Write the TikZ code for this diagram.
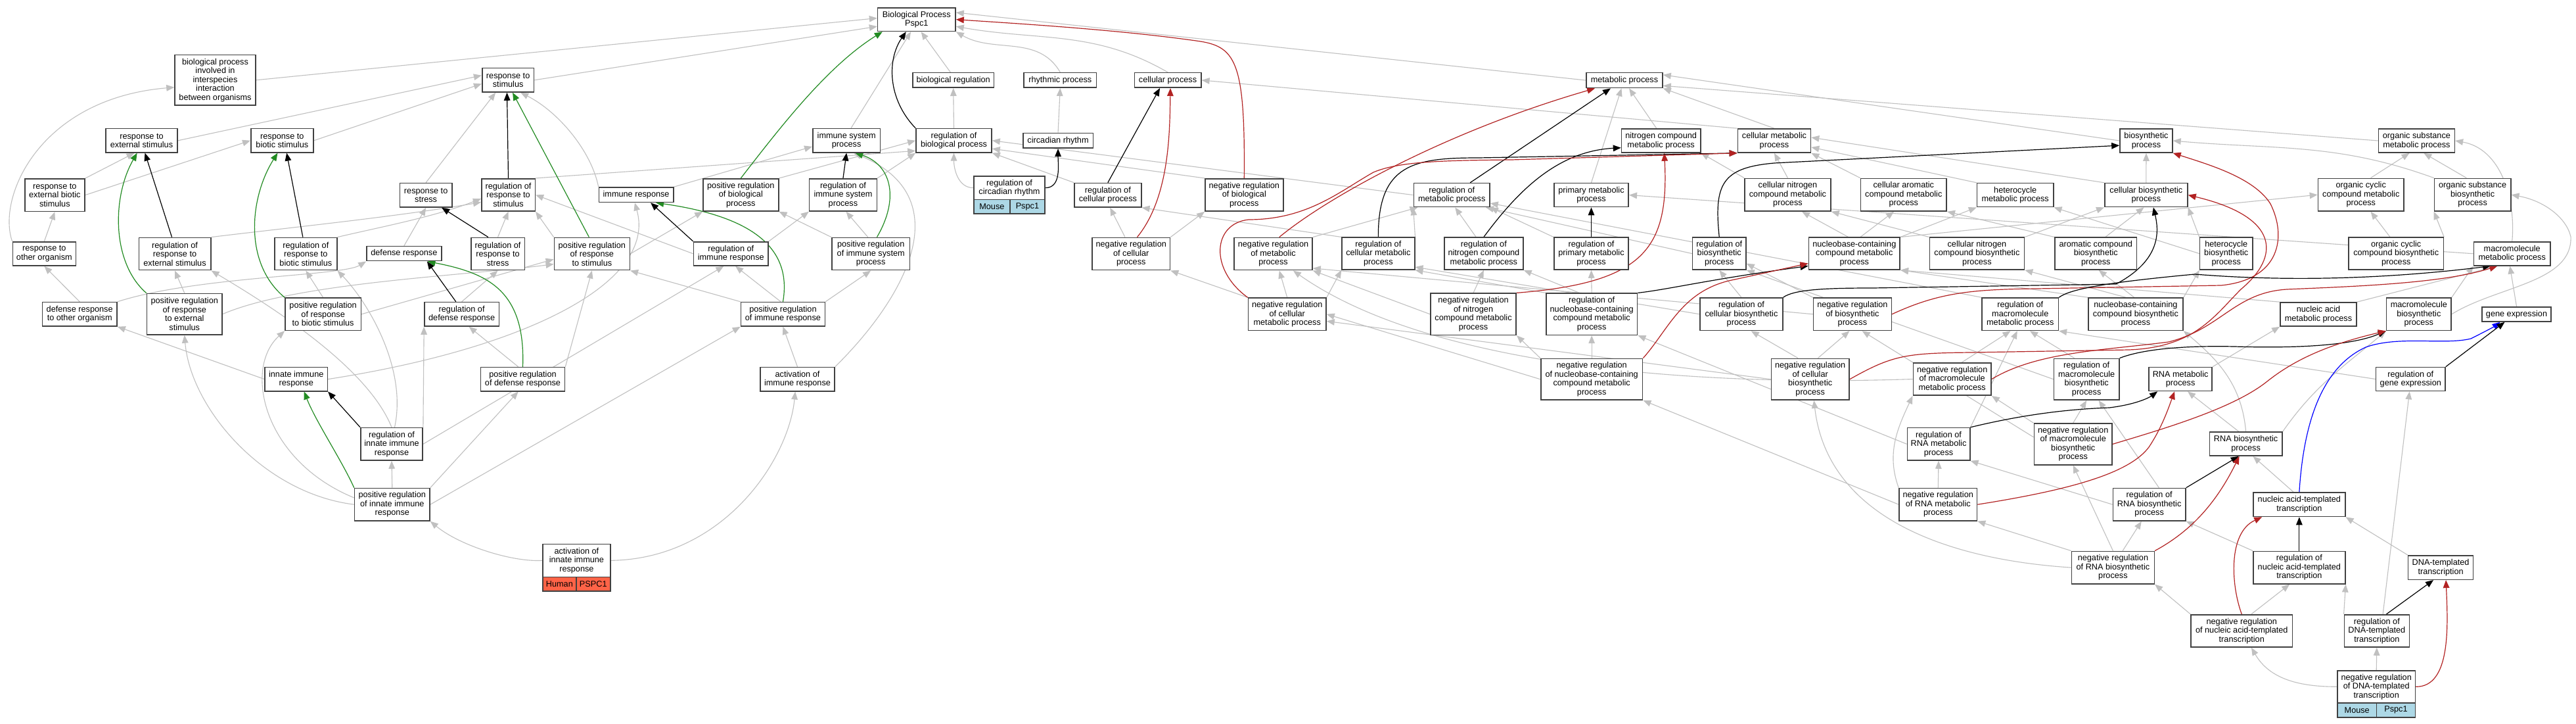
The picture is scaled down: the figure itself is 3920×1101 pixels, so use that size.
\documentclass[tikz,border=0pt]{standalone}
\usepackage{fontspec}
\setmainfont{Liberation Sans}
\usetikzlibrary{arrows.meta,calc}
\pgfdeclarelayer{background}
\pgfsetlayers{background,main}
\definecolor{edgegray}{HTML}{C0C0C0}
\definecolor{boxborder}{HTML}{404040}
\definecolor{negred}{HTML}{B22222}
\definecolor{posgreen}{HTML}{228B22}
\definecolor{humancol}{HTML}{FF6347}
\definecolor{mousecol}{HTML}{ADD8E6}
\newcommand{\gobox}[6]{%
  \pgfmathsetmacro{\goW}{(#3-#2)*0.5}%
  \pgfmathsetmacro{\goH}{(#5-#4)*0.5}%
  \pgfmathsetmacro{\goX}{(#2+#3)/2}%
  \pgfmathsetmacro{\goY}{-(#4+#5)/2}%
  \node[gobox, minimum width=\goW pt, minimum height=\goH pt] (#1) at (\goX,\goY) {#6};}
\newcommand{\gocell}[7]{%
  \pgfmathsetmacro{\goW}{(#3-#2)*0.5}%
  \pgfmathsetmacro{\goH}{(#5-#4)*0.5}%
  \pgfmathsetmacro{\goX}{(#2+#3)/2}%
  \pgfmathsetmacro{\goY}{-(#4+#5)/2}%
  \node[gobox, fill=#6, minimum width=\goW pt, minimum height=\goH pt] (#1) at (\goX,\goY) {#7};}
\begin{document}
\begin{tikzpicture}[x=0.5pt,y=0.5pt,
  gobox/.style={draw=boxborder, line width=0.8pt, fill=white, inner sep=0pt, align=center,
    font=\fontsize{6.35}{6.75}\selectfont},
  eg/.style={draw=edgegray, line width=0.55pt, -{Triangle[length=6pt,width=4.8pt]}},
  ebk/.style={draw=black, line width=0.6pt, -{Triangle[length=6pt,width=4.8pt]}},
  egr/.style={draw=posgreen, line width=0.6pt, -{Triangle[length=6pt,width=4.8pt]}},
  erd/.style={draw=negred, line width=0.6pt, -{Triangle[length=6pt,width=4.8pt]}},
  eblue/.style={draw=blue, line width=0.6pt, -{Triangle[length=6pt,width=4.8pt]}}]
\useasboundingbox (0,0) rectangle (3920,-1101);
% ---------------- nodes: left
\gobox{bpint}{266}{389}{83.6}{160}{biological process\\involved in\\interspecies\\interaction\\between organisms}
\gobox{rext}{160.8}{270.2}{195.7}{231.8}{response to\\external stimulus}
\gobox{rbio}{381.8}{476.9}{195.7}{231.8}{response to\\biotic stimulus}
\gobox{rextbio}{37.9}{128.8}{272}{321.4}{response to\\external biotic\\stimulus}
\gobox{roth}{19.4}{115.3}{367.8}{403.9}{response to\\other organism}
\gobox{regrext}{211.3}{320.7}{361.4}{410.7}{regulation of\\response to\\external stimulus}
\gobox{regrbio}{418}{512.7}{361.4}{410.7}{regulation of\\response to\\biotic stimulus}
\gobox{droth}{64.4}{178}{459.6}{496}{defense response\\to other organism}
\gobox{pregrext}{223.5}{338}{446.4}{508.9}{positive regulation\\of response\\to external\\stimulus}
\gobox{pregrbio}{434}{549.3}{453.2}{502.4}{positive regulation\\of response\\to biotic stimulus}
\gobox{rstress}{608.6}{687.7}{278.5}{315}{response to\\stress}
\gobox{defense}{558}{671.7}{374.6}{396.7}{defense response}
\gobox{innate}{403.2}{498.3}{558.6}{594.7}{innate immune\\response}
\gobox{reginnate}{548.9}{643.1}{650.6}{700}{regulation of\\innate immune\\response}
\gobox{preginnate}{539.6}{654}{742.5}{791.9}{positive regulation\\of innate immune\\response}
\gobox{rstim}{733.7}{812.6}{103.6}{140}{response to\\stimulus}
\gobox{regrstim}{732.8}{814.3}{271.8}{321}{regulation of\\response to\\stimulus}
\gobox{immresp}{911.5}{1024.7}{285}{307.5}{immune response}
\gobox{pregbio}{1070}{1184.7}{271.8}{321}{positive regulation\\of biological\\process}
\gobox{immsys}{1236.8}{1339.5}{195.7}{231.8}{immune system\\process}
\gobox{regimmsys}{1231.6}{1334.3}{271.8}{321}{regulation of\\immune system\\process}
\gobox{regrstress}{716.8}{798.3}{361.4}{410.7}{regulation of\\response to\\stress}
\gobox{pregrstim}{843.4}{958.3}{361.4}{410.7}{positive regulation\\of response\\to stimulus}
\gobox{regimm}{1055.5}{1169}{367.8}{403.9}{regulation of\\immune response}
\gobox{pregimmsys}{1265.8}{1384.6}{361.4}{410.7}{positive regulation\\of immune system\\process}
\gobox{regdef}{646}{759.3}{459.6}{496}{regulation of\\defense response}
\gobox{pregimm}{1127.5}{1255.4}{459.6}{496}{positive regulation\\of immune response}
\gobox{pregdef}{731.5}{859.5}{558.6}{594.7}{positive regulation\\of defense response}
\gobox{actimm}{1157}{1270}{558.6}{594.7}{activation of\\immune response}
\gobox{actinnate}{826}{928.8}{827.3}{877.4}{activation of\\innate immune\\response}
\gocell{actinnateA}{826}{876.8}{877.4}{898.9}{humancol}{Human}
\gocell{actinnateB}{876.8}{928.8}{877.4}{898.9}{humancol}{PSPC1}
% ---------------- nodes: middle
\gobox{root}{1335.6}{1454}{11.8}{47.5}{Biological Process\\Pspc1}
\gobox{bioreg}{1388.9}{1512.5}{110.7}{133.2}{biological regulation}
\gobox{rhythm}{1558}{1668.6}{110.7}{133.2}{rhythmic process}
\gobox{cellproc}{1726.3}{1827.8}{110.7}{133.2}{cellular process}
\gobox{regbio}{1394}{1509}{195.7}{231.8}{regulation of\\biological process}
\gobox{circ}{1556.7}{1663.4}{202.5}{225.3}{circadian rhythm}
\gobox{regcirc}{1482}{1590}{267.8}{303.5}{regulation of\\circadian rhythm}
\gocell{regcircA}{1482}{1536.8}{303.5}{325}{mousecol}{Mouse}
\gocell{regcircB}{1536.8}{1590}{303.5}{325}{mousecol}{Pspc1}
\gobox{regcell}{1635}{1736.7}{278.5}{315}{regulation of\\cellular process}
\gobox{negregbio}{1833.9}{1952.7}{271.8}{321}{negative regulation\\of biological\\process}
\gobox{negregcell}{1662}{1780.5}{361.4}{410.7}{negative regulation\\of cellular\\process}
\gobox{negregmet}{1878}{1997}{361.4}{410.7}{negative regulation\\of metabolic\\process}
\gobox{negregcellmet}{1899.5}{2018}{453.2}{502.4}{negative regulation\\of cellular\\metabolic process}
\gobox{metproc}{2413.9}{2530}{110.6}{133.6}{metabolic process}
\gobox{nitro}{2467.5}{2587.7}{196}{232}{nitrogen compound\\metabolic process}
\gobox{regmet}{2151.4}{2267}{278.6}{314.6}{regulation of\\metabolic process}
\gobox{primet}{2364.8}{2478.2}{278.6}{314.6}{primary metabolic\\process}
\gobox{regcellmet}{2042}{2152.7}{361.3}{410}{regulation of\\cellular metabolic\\process}
\gobox{regnitro}{2197.8}{2317.9}{361.3}{410}{regulation of\\nitrogen compound\\metabolic process}
\gobox{regprimet}{2364.8}{2478.2}{361.3}{410}{regulation of\\primary metabolic\\process}
\gobox{negregnitro}{2176.9}{2307.2}{446.2}{509.4}{negative regulation\\of nitrogen\\compound metabolic\\process}
\gobox{regnuc}{2352.7}{2491.6}{446.2}{509.4}{regulation of\\nucleobase-containing\\compound metabolic\\process}
\gobox{negregnuc}{2344.7}{2499.6}{545.4}{608.1}{negative regulation\\of nucleobase-containing\\compound metabolic\\process}
% ---------------- nodes: right
\gobox{cellmet}{2644.4}{2755.5}{196}{232}{cellular metabolic\\process}
\gobox{biosyn}{3226}{3305.9}{196}{232}{biosynthetic\\process}
\gobox{cellnitro}{2655}{2785.9}{271.4}{321}{cellular nitrogen\\compound metabolic\\process}
\gobox{cellarom}{2831.4}{2962.2}{271.4}{321}{cellular aromatic\\compound metabolic\\process}
\gobox{hetmet}{3008.6}{3124.7}{278.6}{314.6}{heterocycle\\metabolic process}
\gobox{cellbio}{3202.8}{3328.9}{278.6}{314.6}{cellular biosynthetic\\process}
\gobox{regbiosyn}{2575.6}{2656.9}{361.3}{410}{regulation of\\biosynthetic\\process}
\gobox{nucmet}{2752.4}{2891.2}{361.3}{410}{nucleobase-containing\\compound metabolic\\process}
\gobox{cellnitrobio}{2936.3}{3080.5}{361.3}{410}{cellular nitrogen\\compound biosynthetic\\process}
\gobox{arombio}{3127}{3251.5}{361.3}{410}{aromatic compound\\biosynthetic\\process}
\gobox{regcellbio}{2587.2}{2712.7}{453.1}{502.5}{regulation of\\cellular biosynthetic\\process}
\gobox{negregbiosyn}{2759.5}{2878.3}{453.1}{502.5}{negative regulation\\of biosynthetic\\process}
\gobox{regmacmet}{3016.2}{3132.3}{453.1}{502.5}{regulation of\\macromolecule\\metabolic process}
\gobox{nucbio}{3177.8}{3322}{453.1}{502.5}{nucleobase-containing\\compound biosynthetic\\process}
\gobox{negregcellbio}{2695.3}{2814}{545.4}{608.1}{negative regulation\\of cellular\\biosynthetic\\process}
\gobox{negregmacmet}{2911.3}{3030}{551.9}{601.2}{negative regulation\\of macromolecule\\metabolic process}
\gobox{regmacbio}{3125.6}{3224.7}{545.4}{608.1}{regulation of\\macromolecule\\biosynthetic\\process}
\gobox{regrnamet}{2902.3}{2997.7}{650.6}{700}{regulation of\\RNA metabolic\\process}
\gobox{negregmacbio}{3095.3}{3214.1}{644.1}{706.7}{negative regulation\\of macromolecule\\biosynthetic\\process}
\gobox{negregrnamet}{2890}{3008.5}{742.5}{791.9}{negative regulation\\of RNA metabolic\\process}
\gobox{regrnabio}{3215.4}{3325.9}{742.5}{791.9}{regulation of\\RNA biosynthetic\\process}
\gobox{negregrnabio}{3152.5}{3278.3}{838.4}{887.8}{negative regulation\\of RNA biosynthetic\\process}
\gobox{orgsubmet}{3619.5}{3735.3}{196}{232}{organic substance\\metabolic process}
\gobox{orgcycmet}{3527.5}{3658}{271.4}{321}{organic cyclic\\compound metabolic\\process}
\gobox{orgsubbio}{3704.5}{3820.7}{271.4}{321}{organic substance\\biosynthetic\\process}
\gobox{hetbio}{3347.6}{3427.8}{361.3}{410}{heterocycle\\biosynthetic\\process}
\gobox{orgcycbio}{3574}{3718.4}{361.3}{410}{organic cyclic\\compound biosynthetic\\process}
\gobox{macmet}{3764.4}{3881}{367.8}{403.8}{macromolecule\\metabolic process}
\gobox{nucacidmet}{3469.9}{3586}{460}{496}{nucleic acid\\metabolic process}
\gobox{macbio}{3631.6}{3730}{453.1}{502.5}{macromolecule\\biosynthetic\\process}
\gobox{geneexp}{3777}{3882}{466.9}{489}{gene expression}
\gobox{rnamet}{3270}{3366.2}{558.5}{594.5}{RNA metabolic\\process}
\gobox{reggene}{3615.6}{3721}{558.5}{594.5}{regulation of\\gene expression}
\gobox{rnabio}{3362.3}{3472.9}{657}{693.1}{RNA biosynthetic\\process}
\gobox{nucacidtrans}{3429}{3568.7}{749}{785.5}{nucleic acid-templated\\transcription}
\gobox{regnucacidtrans}{3429}{3568.7}{838.4}{887.8}{regulation of\\nucleic acid-templated\\transcription}
\gobox{dnatrans}{3664.6}{3763.5}{844.8}{881.3}{DNA-templated\\transcription}
\gobox{negregnucacid}{3334}{3488.5}{934.7}{984}{negative regulation\\of nucleic acid-templated\\transcription}
\gobox{regdnatrans}{3567.4}{3666.3}{934.7}{984}{regulation of\\DNA-templated\\transcription}
\gobox{negregdna}{3557}{3675.4}{1019.8}{1068.8}{negative regulation\\of DNA-templated\\transcription}
\gocell{negregdnaA}{3557}{3616.4}{1068.8}{1091}{mousecol}{Mouse}
\gocell{negregdnaB}{3616.4}{3675.4}{1068.8}{1091}{mousecol}{Pspc1}
% ---------------- edges
\begin{pgfonlayer}{background}
\fill[white] (0,0) rectangle (3920,-1101);
% left gray
\draw[eg] (bpint.east) -- (root.178);
\draw[eg] (rstim.east) -- (root.190);
\draw[eg] (rext.east) -- (rstim.170);
\draw[eg] (rbio.east) -- (rstim.188);
\draw[eg] (rextbio.north east) -- (rext.-120);
\draw[eg] (rextbio.east) -- (rbio.west);
\draw[eg] (roth.north) -- (rextbio.south);
\draw[eg] (roth.north west) .. controls (-5,-300) and (60,-150) .. (bpint.190);
\draw[eg] (droth.north) -- (roth.south);
\draw[eg] (droth.north east) .. controls (300,-420) and (520,-420) .. (defense.south west);
\draw[eg] (regrext.north east) .. controls (450,-345) and (600,-330) .. (regrstim.-165);
\draw[eg] (regrbio.north east) .. controls (580,-345) and (660,-330) .. (regrstim.-172);
\draw[eg] (pregrext.north) -- (regrext.south);
\draw[eg] (pregrext.east) .. controls (450,-430) and (700,-420) .. (pregrstim.-165);
\draw[eg] (pregrbio.east) -- (pregrstim.-172);
\draw[eg] (pregrbio.north) -- (regrbio.south);
\draw[eg] (rstress.north) -- (rstim.-135);
\draw[eg] (defense.north) -- (rstress.south);
\draw[eg] (innate.west) -- (droth.south east);
\draw[eg] (innate.east) .. controls (800,-530) and (1000,-430) .. (immresp.-100);
\draw[eg] (reginnate.north) .. controls (560,-560) and (420,-470) .. (regrext.south east);
\draw[eg] (reginnate.80) .. controls (620,-560) and (560,-460) .. (regrbio.south east);
\draw[eg] (reginnate.north east) -- (regdef.south west);
\draw[eg] (reginnate.east) -- (regimm.-120);
\draw[eg] (preginnate.north) -- (reginnate.south);
\draw[eg] (preginnate.west) .. controls (400,-750) and (290,-620) .. (pregrext.south);
\draw[eg] (preginnate.170) .. controls (400,-700) and (370,-560) .. (pregrbio.south west);
\draw[eg] (preginnate.north east) -- (pregdef.-110);
\draw[eg] (preginnate.east) -- (pregimm.south west);
\draw[eg] (actinnate.west) .. controls (780,-855) and (700,-830) .. (preginnate.south east);
\draw[eg] (actinnate.east) .. controls (1100,-850) and (1200,-700) .. (actimm.-100);
\draw[eg] (regrstim.north east) -- (regbio.195);
\draw[eg] (regrstress.north) -- (regrstim.south);
\draw[eg] (regdef.north) -- (regrstress.south);
\draw[eg] (immresp.north west) .. controls (900,-230) and (850,-170) .. (rstim.-45);
\draw[eg] (immresp.north east) -- (immsys.-170);
\draw[eg] (immsys.70) -- (root.-115);
\draw[eg] (regimm.west) -- (regrstim.east);
\draw[eg] (regimm.north east) -- (regimmsys.south west);
\draw[eg] (regimmsys.north east) -- (regbio.south west);
\draw[eg] (pregbio.north east) -- (regbio.west);
\draw[eg] (pregrstim.north west) -- (regrstim.south east);
\draw[eg] (pregrstim.east) -- (pregbio.south west);
\draw[eg] (pregimm.100) -- (regimm.-70);
\draw[eg] (pregimm.north west) -- (pregrstim.south east);
\draw[eg] (pregimm.north east) -- (pregimmsys.south);
\draw[eg] (pregimmsys.100) -- (regimmsys.-80);
\draw[eg] (pregimmsys.north west) -- (pregbio.south east);
\draw[eg] (pregdef.110) -- (regdef.-60);
\draw[eg] (pregdef.north east) -- (pregrstim.south);
\draw[eg] (actimm.north) -- (pregimm.south);
\draw[eg] (actimm.north east) .. controls (1380,-450) and (1460,-300) .. (immsys.-60);
% middle gray
\draw[eg] (bioreg.110) -- (root.-70);
\draw[eg] (rhythm.north) to[out=120,in=-30] (root.south east);
\draw[eg] (cellproc.north) to[out=150,in=-10] (root.-10);
\draw[eg] (regbio.north) -- (bioreg.south);
\draw[eg] (circ.north) -- (rhythm.south);
\draw[eg] (regcirc.west) to[out=180,in=-90] (regbio.south);
\draw[eg] (regcell.north west) -- (regbio.south east);
\draw[eg] (negregbio.north west) -- (regbio.-12);
\draw[eg] (negregcell.110) -- (regcell.-80);
\draw[eg] (negregcell.north east) -- (negregbio.south west);
\draw[eg] (negregcellmet.north west) -- (negregcell.south east);
\draw[eg] (negregcellmet.north) -- (negregmet.-70);
\draw[eg] (regmet.west) -- (regbio.east);
\draw[eg] (regcellmet.north west) -- (regcell.south east);
\draw[eg] (metproc.west) -- (root.10);
\draw[eg] (cellmet.north west) -- (cellproc.east);
\draw[eg] (cellmet.north) -- (metproc.south east);
\draw[eg] (nitro.110) -- (metproc.-60);
\draw[eg] (primet.north) -- (metproc.-110);
\draw[eg] (biosyn.west) -- (metproc.8);
\draw[eg] (orgsubmet.west) -- (metproc.-8);
\draw[eg] (cellnitro.north west) -- (nitro.south east);
\draw[eg] (cellnitro.north) -- (cellmet.south);
\draw[eg] (cellarom.north west) -- (cellmet.south east);
\draw[eg] (hetmet.north west) -- (cellmet.-10);
\draw[eg] (cellbio.north west) -- (cellmet.5);
\draw[eg] (cellbio.north) -- (biosyn.south);
\draw[eg] (macmet.west) -- (primet.east);
\draw[eg] (macmet.north) to[out=85,in=-10] (orgsubmet.east);
\draw[eg] (regcellmet.north east) -- (regmet.south west);
\draw[eg] (regnitro.115) -- (regmet.-75);
\draw[eg] (regprimet.north west) -- (regmet.south east);
\draw[eg] (negregmet.north east) -- (regmet.-160);
\draw[eg] (regbiosyn.west) -- (regmet.-20);
\draw[eg] (regmacmet.north west) -- (regmet.-12);
\draw[eg] (negregcellmet.north east) -- (regcellmet.south west);
\draw[eg] (regnuc.north west) -- (regcellmet.south east);
\draw[eg] (regcellbio.west) -- (regcellmet.-20);
\draw[eg] (negregnitro.north) -- (regnitro.south);
\draw[eg] (regnuc.120) -- (regnitro.south east);
\draw[eg] (regnuc.north) -- (regprimet.south);
\draw[eg] (negregnitro.west) -- (negregmet.south east);
\draw[eg] (negregbiosyn.west) -- (negregmet.-20);
\draw[eg] (negregmacmet.west) .. controls (2500,-590) and (2150,-540) .. (negregmet.-40);
\draw[eg] (negregnuc.west) -- (negregcellmet.east);
\draw[eg] (negregcellbio.west) -- (negregcellmet.-10);
\draw[eg] (negregnuc.north west) -- (negregnitro.south east);
\draw[eg] (negregnuc.north) -- (regnuc.south);
\draw[eg] (regrnamet.west) -- (regnuc.south east);
\draw[eg] (negregrnamet.west) -- (negregnuc.south east);
% right gray
\draw[eg] (nucmet.110) -- (cellnitro.-50);
\draw[eg] (nucmet.70) -- (cellarom.-120);
\draw[eg] (nucmet.north east) -- (hetmet.south west);
\draw[eg] (nucmet.north east) -- (orgcycmet.west);
\draw[eg] (cellnitrobio.north west) -- (cellnitro.south east);
\draw[eg] (cellnitrobio.north east) -- (cellbio.south west);
\draw[eg] (arombio.north west) -- (cellarom.south east);
\draw[eg] (arombio.60) -- (cellbio.-100);
\draw[eg] (hetbio.west) -- (hetmet.south east);
\draw[eg] (hetbio.north west) -- (cellbio.south east);
\draw[eg] (nucbio.north west) -- (nucmet.south east);
\draw[eg] (nucbio.120) -- (cellnitrobio.south east);
\draw[eg] (nucbio.95) -- (arombio.-80);
\draw[eg] (nucbio.north east) -- (hetbio.south west);
\draw[eg] (orgcycmet.60) -- (orgsubmet.-120);
\draw[eg] (orgsubbio.110) -- (orgsubmet.-60);
\draw[eg] (orgsubbio.north west) to[out=160,in=-5] (biosyn.east);
\draw[eg] (orgcycbio.110) -- (orgcycmet.-60);
\draw[eg] (orgcycbio.north east) -- (orgsubbio.south west);
\draw[eg] (macbio.north east) -- (macmet.south west);
\draw[eg] (macbio.east) .. controls (3800,-435) and (3915,-430) .. (3912,-360) .. controls (3905,-330) and (3870,-305) .. (orgsubbio.east);
\draw[eg] (geneexp.north) -- (macmet.-100);
\draw[eg] (nucacidmet.north west) -- (nucmet.south east);
\draw[eg] (nucacidmet.north east) -- (macmet.-140);
\draw[eg] (rnamet.north east) -- (nucacidmet.south west);
\draw[eg] (rnabio.120) -- (rnamet.-60);
\draw[eg] (rnabio.north) to[out=95,in=-40] (nucbio.south east);
\draw[eg] (rnabio.north east) to[out=55,in=-140] (macbio.south west);
\draw[eg] (nucacidtrans.115) -- (rnabio.-60);
\draw[eg] (dnatrans.north west) -- (nucacidtrans.south east);
\draw[eg] (regnucacidtrans.north west) -- (regrnabio.south east);
\draw[eg] (negregnucacid.60) -- (regnucacidtrans.-120);
\draw[eg] (negregnucacid.north west) -- (negregrnabio.south east);
\draw[eg] (regdnatrans.north west) -- (regnucacidtrans.south east);
\draw[eg] (regdnatrans.70) -- (reggene.-95);
\draw[eg] (negregdna.north) -- (regdnatrans.south);
\draw[eg] (negregdna.west) to[out=180,in=-60] (negregnucacid.-60);
\draw[eg] (reggene.west) -- (regmacmet.south east);
\draw[eg] (regrnamet.north east) -- (regmacmet.-100);
\draw[eg] (negregrnamet.north) -- (regrnamet.south);
\draw[eg] (negregrnamet.north west) to[out=110,in=-115] (negregmacmet.south west);
\draw[eg] (negregmacbio.north) -- (regmacbio.south);
\draw[eg] (negregmacbio.north west) -- (negregmacmet.south east);
\draw[eg] (negregmacbio.170) -- (negregbiosyn.-60);
\draw[eg] (regmacbio.120) -- (regmacmet.-60);
\draw[eg] (regmacbio.west) -- (regbiosyn.south east);
\draw[eg] (negregbiosyn.north west) -- (regbiosyn.-20);
\draw[eg] (regcellbio.north) -- (regbiosyn.south);
\draw[eg] (negregcellbio.120) -- (regcellbio.-60);
\draw[eg] (negregcellbio.70) -- (negregbiosyn.-100);
\draw[eg] (negregmacmet.60) -- (regmacmet.-120);
\draw[eg] (regrnabio.west) -- (regrnamet.south east);
\draw[eg] (regrnabio.60) -- (regmacbio.-60);
\draw[eg] (negregrnabio.60) -- (regrnabio.-115);
\draw[eg] (negregrnabio.north west) -- (negregrnamet.south east);
\draw[eg] (negregrnabio.north) -- (negregmacbio.south);
\draw[eg] (negregrnabio.west) .. controls (2950,-850) and (2780,-780) .. (negregcellbio.-80);
% colored: left
\draw[ebk] (regrext.100) -- (rext.-75);
\draw[egr] (pregrext.north west) .. controls (170,-400) and (170,-300) .. (rext.-110);
\draw[ebk] (regrbio.100) -- (rbio.-70);
\draw[egr] (pregrbio.north west) .. controls (370,-400) and (380,-300) .. (rbio.-110);
\draw[ebk] (regrstim.north) -- (rstim.-95);
\draw[egr] (pregrstim.100) -- (rstim.-70);
\draw[ebk] (regrstress.120) -- ($(rstress.south)+(24,0)$);
\draw[ebk] (regdef.115) -- ($(defense.south)+(35,0)$);
\draw[egr] (pregdef.north) .. controls (800,-440) and (740,-415) .. ($(defense.south east)+(-22,0)$);
\draw[ebk] (regimm.north west) -- ($(immresp.south)+(22,0)$);
\draw[egr] (pregimm.north) .. controls (1205,-380) and (1150,-330) .. ($(immresp.south)+(30,0)$);
\draw[ebk] (regimmsys.north) -- (immsys.south);
\draw[egr] (pregimmsys.70) .. controls (1370,-300) and (1355,-250) .. (immsys.-55);
\draw[ebk] (regbio.north west) .. controls (1350,-150) and (1350,-90) .. ($(root.south)+(-16,0)$);
\draw[egr] (pregbio.north) .. controls (1190,-190) and (1260,-100) .. ($(root.south west)+(8,0)$);
\draw[ebk] (reginnate.north west) -- (innate.south east);
\draw[egr] (preginnate.north west) .. controls (520,-700) and (480,-640) .. ($(innate.south)+(12,0)$);
% colored: middle
\draw[ebk] (regcirc.east) to[out=0,in=-90] (circ.south);
\draw[ebk] (regcell.north) -- ($(cellproc.south)+(-12,0)$);
\draw[erd] (negregcell.70) .. controls (1780,-300) and (1780,-200) .. ($(cellproc.south)+(4,0)$);
\draw[erd] (negregbio.north) .. controls (1895,-90) and (1880,-70) .. (1820,-62) .. controls (1700,-45) and (1550,-36) .. (root.east);
\draw[ebk] ($(regmet.north)+(28,0)$) -- ($(metproc.south)+(-21,0)$);
\draw[erd] (negregmet.70) .. controls (2020,-300) and (2200,-200) .. ($(metproc.south west)+(14,0)$);
\draw[ebk] (regnitro.north) .. controls (2310,-290) and (2370,-230) .. (nitro.-170);
\draw[erd] (negregnitro.north east) .. controls (2500,-430) and (2540,-380) .. ($(nitro.south)+(5,0)$);
\draw[ebk] (regcellmet.north) .. controls (2097,-250) and (2150,-240) .. (2250,-240) -- (cellmet.south west);
\draw[erd] (negregcellmet.north west) .. controls (1840,-410) and (1845,-340) .. (1900,-334) .. controls (1990,-334) and (2040,-290) .. (2090,-262) .. controls (2130,-245) and (2200,-244) .. (2300,-243) -- (cellmet.south west);
\draw[ebk] (regprimet.north) -- (primet.south);
\draw[ebk] (regnuc.north east) .. controls (2540,-440) and (2600,-425) .. (nucmet.-165);
\draw[erd] (negregnuc.north east) .. controls (2540,-500) and (2560,-440) .. (2640,-425) -- (nucmet.-168);
% colored: right
\draw[ebk] (regbiosyn.north) .. controls (2608,-280) and (2620,-255) .. (2700,-248) -- (biosyn.-170);
\draw[erd] (negregbiosyn.east) .. controls (2950,-445) and (3000,-440) .. (3100,-439) -- (3380,-434) .. controls (3470,-425) and (3480,-360) .. (3455,-310) .. controls (3430,-270) and (3360,-250) .. (biosyn.south east);
\draw[ebk] (regcellbio.north east) .. controls (2730,-440) and (2780,-438) .. (2850,-438) -- (3220,-432) .. controls (3290,-395) and (3285,-350) .. ($(cellbio.south)+(11,0)$);
\draw[erd] (negregcellbio.east) .. controls (2880,-540) and (2900,-537) .. (3000,-536) -- (3240,-532) .. controls (3340,-528) and (3370,-480) .. (3410,-440) .. controls (3470,-390) and (3470,-330) .. (cellbio.east);
\draw[ebk] (regmacmet.north east) .. controls (3150,-440) and (3200,-430) .. (3340,-417) .. controls (3450,-426) and (3600,-428) .. (macmet.-150);
\draw[erd] (negregmacmet.east) .. controls (3100,-535) and (3200,-533) .. (3300,-520) .. controls (3380,-500) and (3400,-445) .. (3480,-440) .. controls (3600,-435) and (3720,-430) .. (macmet.-140);
\draw[ebk] (regmacbio.north east) .. controls (3250,-535) and (3300,-525) .. (3400,-527) .. controls (3500,-530) and (3580,-525) .. (macbio.south west);
\draw[erd] (negregmacbio.east) .. controls (3300,-650) and (3400,-620) .. (3450,-580) .. controls (3500,-540) and (3560,-520) .. (macbio.south west);
\draw[ebk] (regrnamet.north east) .. controls (3080,-630) and (3150,-622) .. (3210,-620) .. controls (3250,-615) and (3270,-605) .. ($(rnamet.south west)+(14,0)$);
\draw[erd] (negregrnamet.east) .. controls (3150,-745) and (3240,-720) .. (3270,-680) .. controls (3290,-650) and (3300,-620) .. ($(rnamet.south)+(-9,0)$);
\draw[ebk] (regrnabio.north east) -- (rnabio.-120);
\draw[erd] (negregrnabio.north east) .. controls (3330,-810) and (3370,-770) .. ($(rnabio.south)+(-10,0)$);
\draw[ebk] (regnucacidtrans.north) -- (nucacidtrans.south);
\draw[erd] (negregnucacid.north) .. controls (3395,-890) and (3390,-810) .. ($(nucacidtrans.south west)+(14,0)$);
\draw[ebk] (regdnatrans.60) -- (dnatrans.-120);
\draw[erd] (negregdna.east) .. controls (3730,-1045) and (3725,-950) .. ($(dnatrans.south)+(8,0)$);
\draw[eblue] (nucacidtrans.north) .. controls (3505,-650) and (3530,-560) .. (3600,-528) .. controls (3650,-510) and (3720,-525) .. (3760,-515) .. controls (3780,-505) and (3795,-497) .. ($(geneexp.south)+(-25,0)$);
\draw[ebk] (reggene.north east) -- ($(geneexp.south)+(-18,0)$);
\end{pgfonlayer}
\end{tikzpicture}
\end{document}
